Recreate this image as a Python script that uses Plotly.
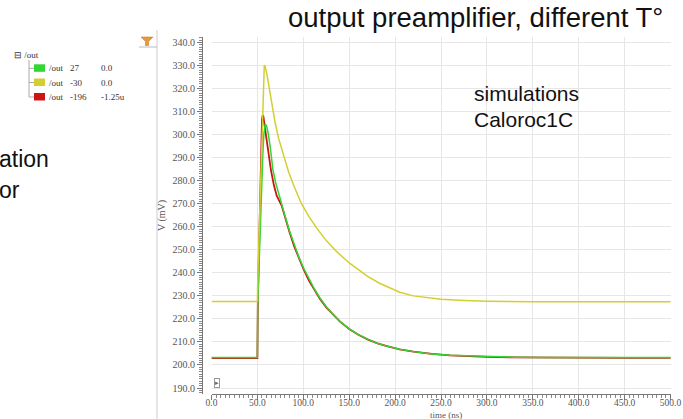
import plotly.graph_objects as go

# ---------------- data ----------------
t_green = [0, 50, 50.3, 52, 54, 55, 56, 57, 58.5, 60, 62, 64, 67, 70, 73, 76.4, 80, 85, 90, 95, 100,
           106, 112, 118, 125, 132, 140, 150, 160, 170, 180, 190, 205, 220, 240, 260, 280, 300,
           330, 360, 400, 450, 500]
v_green = [203.2, 203.2, 226, 248, 271, 282, 292, 300, 304.6, 303.8, 300, 294.5, 284.5, 279, 274.5, 270,
           264.8, 258.2, 252.2, 247.0, 242.3, 237.3, 233.0, 229.2, 225.3, 222.1, 218.9, 215.7, 213.2,
           211.2, 209.5, 208.3, 206.8, 205.8, 204.8, 204.2, 203.9, 203.6, 203.4, 203.3, 203.2, 203.2, 203.2]

t_red = [0, 50, 50.5, 51.7, 53, 54, 55, 55.8, 56.5, 58, 60, 62, 64.8, 68, 71, 76.4, 80, 85, 90, 95, 100,
         106, 112, 118, 125, 132, 140, 150, 160, 170, 180, 190, 205, 220, 240, 260, 280, 300, 330,
         360, 400, 450, 500]
v_red = [203.0, 203.0, 228, 252, 282, 298, 306.5, 308.5, 308, 303.5, 297.5, 291.5, 284.5, 278, 273.5,
         269.2, 264.2, 257.6, 251.6, 246.4, 241.8, 236.8, 232.6, 228.8, 225.0, 221.9, 218.8, 215.6,
         213.1, 211.1, 209.5, 208.3, 206.8, 205.8, 204.8, 204.2, 203.8, 203.5, 203.3, 203.2, 203.1,
         203.1, 203.1]

t_yellow = [0, 50, 50.4, 52, 54, 55, 56, 56.6, 57.5, 58.5, 60, 63, 66, 69.2, 73, 78.2, 84, 90, 98, 106,
            114.6, 125, 136.4, 150, 160, 170, 183, 195, 205, 220, 235, 250, 275, 300, 350, 400, 450, 500]
v_yellow = [227.6, 227.6, 238, 260, 288, 303, 318, 325, 330.2, 329.5, 327, 320, 312.8, 305.5, 298.5, 291,
            283.8, 277.5, 270, 264.5, 259.4, 254, 249.2, 244.3, 241.3, 238.5, 235.5, 233.2, 231.6, 230,
            229.1, 228.5, 228.0, 227.7, 227.5, 227.4, 227.4, 227.4]

series_names = ["/out", "/out", "/out"]
series_temps = ["27", "-30", "-196"]
series_vals = ["0.0", "0.0", "-1.25u"]
series_colors = ["#33d633", "#d4cf30", "#cc1414"]

x_tick_step = 50
y_tick_step = 10

# ---------------- layout helpers (pixel -> paper) ----------------
W, H = 683, 419
ML, MR, MT, MB = 202, 12, 37, 25
PW, PH = W - ML - MR, H - MT - MB


def px(x):
    return (x - ML) / PW


def py(y):
    return (H - MB - y) / PH


fig = go.Figure()
fig.add_trace(go.Scatter(x=t_red, y=v_red, mode="lines",
                         line=dict(color=series_colors[2], width=1.8), name="-196"))
fig.add_trace(go.Scatter(x=t_green, y=v_green, mode="lines",
                         line=dict(color=series_colors[0], width=1.5), name="27"))
fig.add_trace(go.Scatter(x=t_yellow, y=v_yellow, mode="lines",
                         line=dict(color=series_colors[1], width=1.5), name="-30"))

tickfont = dict(family="Liberation Serif", size=9.5, color="#555555")

fig.update_layout(
    width=W, height=H,
    margin=dict(l=ML, r=MR, t=MT, b=MB, autoexpand=False),
    paper_bgcolor="white", plot_bgcolor="white",
    showlegend=False,
    xaxis=dict(
        domain=[9.5 / PW, 1], range=[0, 500.5], automargin=False,
        tickmode="linear", tick0=0, dtick=x_tick_step, tickformat=".1f",
        tickfont=tickfont, ticks="outside", ticklen=5, tickcolor="#777777",
        ticklabelstandoff=-5,
        showline=True, linecolor="#777777", linewidth=1,
        showgrid=True, gridcolor="#e6e6e6", gridwidth=1, zeroline=False,
        minor=dict(ticks="outside", ticklen=3, dtick=5, tickcolor="#888888", showgrid=False),
    ),
    yaxis=dict(
        anchor="free", position=0, automargin=False,
        range=[187.4, 342.4],
        tickmode="linear", tick0=190, dtick=y_tick_step, tickformat=".1f",
        tickfont=dict(family="Liberation Serif", size=10, color="#555555"),
        ticks="outside", ticklen=5, tickcolor="#777777",
        showline=True, linecolor="#777777", linewidth=1,
        showgrid=True, gridcolor="#e6e6e6", gridwidth=1, zeroline=False,
        minor=dict(ticks="outside", ticklen=3, dtick=1, tickcolor="#888888", showgrid=False),
        title=dict(text="V (mV)", font=dict(family="Liberation Serif", size=10, color="#555555"),
                   standoff=4),
    ),
)

ann = []
sans = "Liberation Sans"
# x axis title
ann.append(dict(text="time (ns)", x=px(446), y=py(414.5), xanchor="center", yanchor="middle",
                font=dict(family="Liberation Serif", size=9, color="#555555")))
# slide title and notes
ann.append(dict(text="output preamplifier, different T°", x=px(475), y=py(17.8), xanchor="center",
                yanchor="middle", font=dict(family=sans, size=27.5, color="#111111")))
ann.append(dict(text="simulations", x=px(472), y=py(93.5), xanchor="left", yanchor="middle",
                font=dict(family=sans, size=21, color="#111111")))
ann.append(dict(text="Caloroc1C", x=px(472), y=py(119.5), xanchor="left", yanchor="middle",
                font=dict(family=sans, size=21, color="#111111")))
ann.append(dict(text="ation", x=px(-3), y=py(159), xanchor="left", yanchor="middle",
                font=dict(family=sans, size=23, color="#111111")))
ann.append(dict(text="or", x=px(-3), y=py(190), xanchor="left", yanchor="middle",
                font=dict(family=sans, size=23, color="#111111")))

# left tree legend
lf = dict(family="Liberation Serif", size=9, color="#333333")
ann.append(dict(text="⊟ /out", x=px(12), y=py(55), xanchor="left", yanchor="middle", font=lf))
rows_y = [68.3, 82.5, 97]
shapes = []
shapes.append(dict(type="line", xref="paper", yref="paper", x0=px(29), x1=px(29), y0=py(60), y1=py(97),
                   line=dict(color="#aaaaaa", width=1)))
for i, yy in enumerate(rows_y):
    shapes.append(dict(type="line", xref="paper", yref="paper", x0=px(29), x1=px(34), y0=py(yy), y1=py(yy),
                       line=dict(color="#aaaaaa", width=1)))
    shapes.append(dict(type="rect", xref="paper", yref="paper", x0=px(34), x1=px(45), y0=py(yy - 4),
                       y1=py(yy + 3.5), fillcolor=series_colors[i], line=dict(width=0)))
    ann.append(dict(text=series_names[i], x=px(47), y=py(yy), xanchor="left", yanchor="middle", font=lf))
    ann.append(dict(text=series_temps[i], x=px(68), y=py(yy), xanchor="left", yanchor="middle", font=lf))
    ann.append(dict(text=series_vals[i], x=px(99), y=py(yy), xanchor="left", yanchor="middle", font=lf))

# panel separator, filter icon
shapes.append(dict(type="line", xref="paper", yref="paper", x0=px(157), x1=px(157), y0=py(30), y1=py(419),
                   line=dict(color="#cccccc", width=1)))
shapes.append(dict(type="line", xref="paper", yref="paper", x0=px(139), x1=px(157), y0=py(47), y1=py(47),
                   line=dict(color="#bbbbbb", width=1)))
fpath = "M {} {} L {} {} L {} {} L {} {} L {} {} L {} {} Z".format(
    px(141), py(37), px(153), py(37), px(148.5), py(41.5), px(148.5), py(45.5), px(145.5), py(45.5),
    px(145.5), py(41.5))
shapes.append(dict(type="path", xref="paper", yref="paper", path=fpath, fillcolor="#e89a3a",
                   line=dict(color="#c07020", width=0.5)))

# small play box in plot
ann.append(dict(text="▸", x=px(217), y=py(382.5), xanchor="center", yanchor="middle",
                font=dict(family="DejaVu Sans", size=7, color="#666666"), bordercolor="#999999",
                borderwidth=1, borderpad=0, bgcolor="white"))

for a in ann:
    a.setdefault("xref", "paper")
    a.setdefault("yref", "paper")
    a.setdefault("showarrow", False)

fig.update_layout(annotations=ann, shapes=shapes)
fig.write_html("out.html")
